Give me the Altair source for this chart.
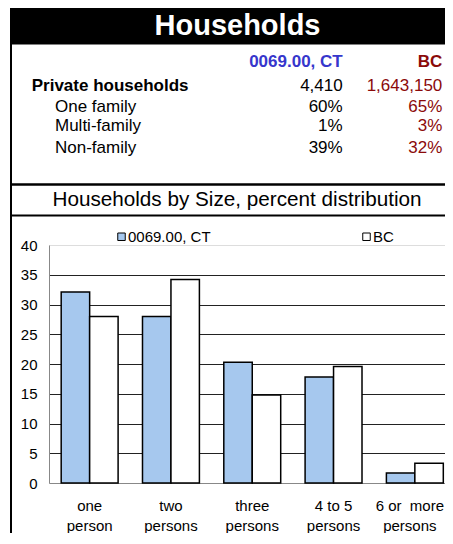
import altair as alt
import pandas as pd

# ---- data ----
main_title = "Households"
subtitle = "Households by Size, percent distribution"
series = ["0069.00, CT", "BC"]
categories = ["one\nperson", "two\npersons", "three\npersons", "4 to 5\npersons", "6 or\u00a0 more\npersons"]
ct_values = [32.1, 28.0, 20.3, 17.8, 1.7]
bc_values = [28.0, 34.2, 14.8, 19.6, 3.3]
y_ticks = [0, 5, 10, 15, 20, 25, 30, 35, 40]

table_labels = ["Private households", "One family", "Multi-family", "Non-family"]
ct_table = ["4,410", "60%", "1%", "39%"]
bc_table = ["1,643,150", "65%", "3%", "32%"]

FONT = "Liberation Sans"
BLUE_HDR = "#3636CC"
RED = "#8B0A0A"
BAR_BLUE = "#A6C8EE"

df = pd.DataFrame({
    "category": categories * 2,
    "series": [series[0]] * len(categories) + [series[1]] * len(categories),
    "value": ct_values + bc_values,
})

one = pd.DataFrame({"a": [0]})

W, H = 396, 238

bars = alt.Chart(df).mark_bar(stroke="black", strokeWidth=1.5).encode(
    x=alt.X("category:N", sort=categories,
            scale=alt.Scale(domain=categories, range=[0, 406.5], paddingInner=0.3, paddingOuter=0.15),
            axis=alt.Axis(title=None, ticks=False, labelFontSize=15, labelColor="black",
                          labelPadding=15, labelLineHeight=20, labelAngle=0,
                          labelExpr="split(datum.label, '\\n')", domainColor="#888888",
                          labelOffset=alt.ExprRef(expr="datum.index == 1 ? -5 : 0"),
                          labelFont=FONT)),
    xOffset=alt.XOffset("series:N", sort=series),
    y=alt.Y("value:Q", scale=alt.Scale(domain=[0, 40], nice=False),
            axis=alt.Axis(title=None, values=y_ticks, ticks=False, labelFontSize=15,
                          labelColor="black", labelPadding=12, domainColor="#888888",
                          grid=True, gridColor="#222222",
                          gridOpacity=alt.ExprRef(expr="datum.value === 40 || datum.value === 0 ? 0 : 1"),
                          labelFont=FONT)),
    fill=alt.Fill("series:N", sort=series,
                  scale=alt.Scale(domain=series, range=[BAR_BLUE, "#FFFFFF"]),
                  legend=alt.Legend(title=None, orient="none", legendX=65, legendY=-16,
                                    direction="horizontal", symbolType="square", symbolSize=56,
                                    symbolStrokeColor="black", symbolStrokeWidth=1,
                                    labelFontSize=15, labelOffset=alt.ExprRef(expr="-1"),
                                    columnPadding=148,
                                    padding=0, labelFont=FONT, labelColor="black")),
)

layers = [bars]

# black header band
layers.append(alt.Chart(one).mark_rect(color="black").encode(
    x=alt.value(-39), x2=alt.value(420), y=alt.value(-240), y2=alt.value(-200.5)))
layers.append(alt.Chart(one).mark_text(font=FONT, fontSize=29, fontWeight="bold", color="white",
                                       align="center", baseline="alphabetic").encode(
    x=alt.value(188.5), y=alt.value(-210), text=alt.value(main_title)))

# borders
layers.append(alt.Chart(one).mark_rule(color="black", strokeWidth=2).encode(
    x=alt.value(-38), y=alt.value(-240), y2=alt.value(320)))
layers.append(alt.Chart(one).mark_rule(color="black", strokeWidth=2.5).encode(
    x=alt.value(-39), x2=alt.value(420), y=alt.value(-60.5)))
layers.append(alt.Chart(one).mark_rule(color="black", strokeWidth=1.8).encode(
    x=alt.value(-39), x2=alt.value(420), y=alt.value(-29.5)))

# subtitle
layers.append(alt.Chart(one).mark_text(font=FONT, fontSize=20.7, color="black",
                                       align="center", baseline="alphabetic").encode(
    x=alt.value(188), y=alt.value(-39), text=alt.value(subtitle)))

# table header
layers.append(alt.Chart(one).mark_text(font=FONT, fontSize=17, fontWeight="bold", color=BLUE_HDR,
                                       align="right", baseline="alphabetic").encode(
    x=alt.value(293.7), y=alt.value(-178.3), text=alt.value(series[0])))
layers.append(alt.Chart(one).mark_text(font=FONT, fontSize=17, fontWeight="bold", color=RED,
                                       align="right", baseline="alphabetic").encode(
    x=alt.value(393.3), y=alt.value(-178.3), text=alt.value(series[1])))

row_y = [-154.3, -132.7, -114.0, -91.7]
row_x = [-17.3, 6, 6, 6]
for i in range(len(table_labels)):
    layers.append(alt.Chart(one).mark_text(font=FONT, fontSize=17,
                                           fontWeight="bold" if i == 0 else "normal",
                                           color="black", align="left", baseline="alphabetic").encode(
        x=alt.value(row_x[i]), y=alt.value(row_y[i]), text=alt.value(table_labels[i])))
    layers.append(alt.Chart(one).mark_text(font=FONT, fontSize=17, color="black",
                                           align="right", baseline="alphabetic").encode(
        x=alt.value(293.7), y=alt.value(row_y[i]), text=alt.value(ct_table[i])))
    layers.append(alt.Chart(one).mark_text(font=FONT, fontSize=17, color=RED,
                                           align="right", baseline="alphabetic").encode(
        x=alt.value(393.3), y=alt.value(row_y[i]), text=alt.value(bc_table[i])))

chart = alt.layer(*layers).properties(
    width=W, height=H,
    autosize=alt.AutoSizeParams(type="none"),
    padding={"left": 41, "top": 237, "right": 0, "bottom": 50},
).configure_view(stroke=None).configure(font=FONT)

chart.save("out.html", embed_options={"renderer": "svg", "actions": False})
